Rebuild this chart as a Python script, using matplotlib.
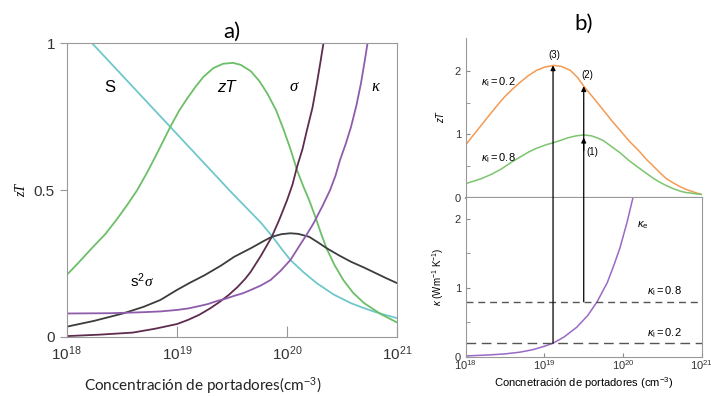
import matplotlib
matplotlib.use('Agg')
import matplotlib.pyplot as plt
import numpy as np
from matplotlib.patches import ConnectionPatch

plt.rcParams['mathtext.fontset'] = 'custom'
plt.rcParams['mathtext.rm'] = 'Liberation Sans'
plt.rcParams['mathtext.it'] = 'Liberation Sans:italic'
plt.rcParams['mathtext.sf'] = 'Liberation Sans'
plt.rcParams['font.family'] = ['Liberation Sans', 'DejaVu Sans']

# ---- panel a) : log10 of carrier concentration and curve values
s_x = [18.23, 18.94, 19.5, 19.76, 19.86, 19.95, 20.03, 20.15, 20.27, 20.42, 20.58,
       20.7, 20.8, 20.9, 21.0]
s_y = [1.0, 0.715, 0.49, 0.39, 0.345, 0.30, 0.262, 0.22, 0.183, 0.145, 0.115,
       0.098, 0.085, 0.074, 0.064]

zt_x = [18.0, 18.1, 18.24, 18.35, 18.45, 18.55, 18.64, 18.73, 18.82, 18.88, 18.94,
        19.02, 19.09, 19.17, 19.24, 19.33, 19.42, 19.51, 19.58, 19.67, 19.75, 19.82,
        19.9, 19.97, 20.03, 20.09, 20.15, 20.2, 20.26, 20.31, 20.36, 20.43, 20.51,
        20.6, 20.7, 20.85, 21.0]
zt_y = [0.211, 0.25, 0.307, 0.35, 0.398, 0.45, 0.50, 0.56, 0.625, 0.67, 0.715,
        0.77, 0.81, 0.852, 0.885, 0.915, 0.93, 0.933, 0.926, 0.905, 0.87, 0.829,
        0.772, 0.704, 0.64, 0.568, 0.51, 0.466, 0.405, 0.35, 0.30, 0.245, 0.194,
        0.15, 0.115, 0.078, 0.049]

pf_x = [18.0, 18.25, 18.51, 18.7, 18.85, 19.0, 19.12, 19.25, 19.4, 19.52, 19.67,
        19.78, 19.86, 19.95, 20.03, 20.1, 20.2, 20.28, 20.36, 20.47, 20.58, 20.7,
        20.8, 20.9, 21.0]
pf_y = [0.035, 0.055, 0.08, 0.103, 0.126, 0.16, 0.185, 0.21, 0.243, 0.273, 0.302,
        0.325, 0.341, 0.35, 0.353, 0.351, 0.341, 0.322, 0.302, 0.278, 0.256, 0.236,
        0.218, 0.2, 0.183]

sig_x = [18.0, 18.3, 18.6, 18.8, 19.0, 19.1, 19.2, 19.3, 19.39, 19.47, 19.55, 19.62,
         19.67, 19.76, 19.86, 19.93, 20.0, 20.05, 20.09, 20.14, 20.18, 20.23, 20.27,
         20.3, 20.33]
sig_y = [0.003, 0.008, 0.015, 0.028, 0.044, 0.058, 0.075, 0.097, 0.12, 0.143, 0.17,
         0.198, 0.222, 0.275, 0.34, 0.40, 0.466, 0.52, 0.579, 0.64, 0.704, 0.78,
         0.863, 0.93, 1.0]

kap_x = [18.0, 18.4, 18.67, 18.85, 19.0, 19.1, 19.2, 19.28, 19.36, 19.44, 19.52,
         19.6, 19.67, 19.76, 19.85, 19.94, 20.03, 20.12, 20.18, 20.24, 20.32, 20.39,
         20.44, 20.48, 20.53, 20.58, 20.63, 20.67, 20.7, 20.73]
kap_y = [0.08, 0.081, 0.084, 0.087, 0.092, 0.097, 0.105, 0.112, 0.122, 0.13, 0.14,
         0.149, 0.16, 0.175, 0.194, 0.225, 0.262, 0.315, 0.35, 0.387, 0.445, 0.5,
         0.55, 0.602, 0.655, 0.715, 0.79, 0.863, 0.93, 1.0]

# ---- panel b)
orange_x = [18.0, 18.08, 18.17, 18.26, 18.35, 18.43, 18.5, 18.6, 18.69, 18.8, 18.9,
            19.0, 19.12, 19.22, 19.33, 19.42, 19.5, 19.62, 19.75, 19.86, 19.97,
            20.08, 20.2, 20.3, 20.39, 20.47, 20.55, 20.64, 20.73, 20.8, 20.87,
            20.94, 21.0]
orange_y = [0.83, 0.96, 1.1, 1.24, 1.38, 1.5, 1.6, 1.72, 1.82, 1.93, 2.01,
            2.06, 2.09, 2.07, 2.01, 1.9, 1.76, 1.58, 1.38, 1.21, 1.05,
            0.89, 0.74, 0.6, 0.49, 0.39, 0.3, 0.23, 0.17, 0.13, 0.1,
            0.07, 0.05]

green_x = [18.0, 18.1, 18.2, 18.33, 18.45, 18.57, 18.69, 18.8, 18.9, 19.01, 19.12,
           19.22, 19.3, 19.4, 19.5, 19.6, 19.68, 19.75, 19.86, 19.97, 20.08, 20.2,
           20.3, 20.39, 20.47, 20.55, 20.64, 20.73, 20.8, 20.87, 20.94, 21.0]
green_y = [0.22, 0.26, 0.3, 0.37, 0.45, 0.55, 0.64, 0.72, 0.78, 0.83, 0.87,
           0.91, 0.945, 0.975, 0.99, 0.975, 0.94, 0.9, 0.8, 0.7, 0.58, 0.47,
           0.38, 0.3, 0.24, 0.19, 0.14, 0.1, 0.08, 0.07, 0.058, 0.05]

ke_x = [18.0, 18.3, 18.5, 18.69, 18.85, 19.0, 19.11, 19.25, 19.41, 19.55, 19.67,
        19.8, 19.88, 19.96, 20.05, 20.13]
ke_y = [0.015, 0.03, 0.045, 0.07, 0.105, 0.155, 0.2, 0.29, 0.43, 0.6, 0.8,
        1.08, 1.32, 1.58, 1.95, 2.33]

kl_values = [0.8, 0.2]
arrow_x = [19.11, 19.5]
arrow_base = [0.2, 0.8]
arrow_top = [2.09, 1.76]
arrow_low_head = 0.99

tick_exp = [18, 19, 20, 21]


def n(exps):
    return 10.0 ** np.array(exps)


fig = plt.figure(figsize=(7.11, 3.96), dpi=100)

# ================= a) =================
ax = fig.add_axes([0.0938, 0.149, 0.465, 0.742])
ax.set_xscale('log')
ax.plot(n(s_x), s_y, color='#6ec8cb', lw=1.3)
ax.plot(n(zt_x), zt_y, color='#6cbf68', lw=1.3)
ax.plot(n(pf_x), pf_y, color='#3c3c3c', lw=1.3)
ax.plot(n(sig_x), sig_y, color='#5e2c4e', lw=1.3)
ax.plot(n(kap_x), kap_y, color='#8f5cab', lw=1.3)
ax.set_xlim(1e18, 1e21)
ax.set_ylim(0, 1)
ax.set_xticks(n(tick_exp))
ax.set_xticklabels(['$10^{%d}$' % e for e in tick_exp], fontsize=11, color='#333333')
ax.xaxis.set_minor_locator(matplotlib.ticker.NullLocator())
ax.set_yticks([0, 0.5, 1])
ax.set_yticklabels(['0', '0.5', '1'], fontsize=11, color='#333333')
ax.tick_params(axis='x', direction='in', length=8, color='#999999', pad=5)
ax.tick_params(axis='y', direction='out', length=5, color='#999999')
for sp in ax.spines.values():
    sp.set_color('#999999')
ax.set_ylabel('zT', fontsize=10, fontstyle='italic', family='Liberation Serif', labelpad=4)
ax.text(0.412, -0.169, 'Concentración de portadores(cm$^{-3}$)', transform=ax.transAxes,
        fontsize=11, family='Lato', ha='center', va='center', color='#222222')
ax.set_title('a)', fontsize=16, family='Lato', pad=4)

ax.text(10 ** 18.39, 0.85, 'S', fontsize=12, ha='center', va='center')
ax.text(10 ** 19.45, 0.85, 'zT', fontsize=12, fontstyle='italic', ha='center', va='center')
ax.text(10 ** 20.06, 0.85, 'σ', fontsize=12, fontstyle='italic', family='Liberation Serif',
        ha='center', va='center')
ax.text(10 ** 20.8, 0.85, 'κ', fontsize=12, fontstyle='italic', family='Liberation Serif',
        ha='center', va='center')
ax.text(10 ** 18.64, 0.19, r's$^2$', fontsize=11, ha='center', va='center')
ax.text(10 ** 18.74, 0.185, 'σ', fontsize=11, fontstyle='italic', family='Liberation Serif',
        ha='center', va='center')

# ================= b) top =================
axt = fig.add_axes([0.655, 0.501, 0.332, 0.402])
axb = fig.add_axes([0.655, 0.0985, 0.332, 0.4025])
for a in (axt, axb):
    a.set_xscale('log')
    a.set_xlim(1e18, 1e21)
    a.xaxis.set_minor_locator(matplotlib.ticker.NullLocator())
    a.set_yticks([0.5, 1.5], minor=True)
    a.tick_params(which='both', direction='in', length=3, color='#888888',
                  labelsize=8, colors='#333333')
    for sp in a.spines.values():
        sp.set_color('#999999')

axt.plot(n(orange_x), orange_y, color='#f59a52', lw=1.1)
axt.plot(n(green_x), green_y, color='#7cc46e', lw=1.1)
axt.set_ylim(0, 2.515)
axt.set_yticks([0, 1, 2])
axt.set_xticks([])
axt.spines['top'].set_visible(False)
axt.spines['right'].set_visible(False)
axt.spines['bottom'].set_linewidth(1.6)
axt.set_ylabel('zT', fontsize=7, fontstyle='italic', labelpad=6)
axt.set_title('b)', fontsize=16, family='Lato', pad=4, y=1.02)
axt.text(10 ** 18.2, 1.83, r'$\kappa_{\rm l} = 0.2$', fontsize=8, va='center')
axt.text(10 ** 18.2, 0.62, r'$\kappa_{\rm l} = 0.8$', fontsize=8, va='center')
axt.text(10 ** 19.12, 2.25, '(3)', fontsize=7, ha='center', va='center')
axt.text(10 ** 19.55, 1.93, '(2)', fontsize=7, ha='center', va='center')
axt.text(10 ** 19.61, 0.72, '(1)', fontsize=7, ha='center', va='center')

# ================= b) bottom =================
axb.plot(n(ke_x), ke_y, color='#9a68c6', lw=1.1)
axb.axhline(kl_values[0], color='#555555', lw=1, dashes=(5, 3.5))
axb.axhline(kl_values[1], color='#555555', lw=1, dashes=(7, 4))
axb.set_ylim(0, 2.31)
axb.set_yticks([0, 1, 2])
axb.set_xticks(n(tick_exp))
axb.set_xticklabels(['$10^{%d}$' % e for e in tick_exp])
axb.tick_params(axis='x', pad=1)
axb.spines['top'].set_visible(False)
axb.set_ylabel(r'$\kappa$ (Wm$^{-1}$ K$^{-1}$)', fontsize=7, labelpad=6)
axb.set_xlabel('Concnetración de portadores (cm$^{-3}$)', fontsize=8, labelpad=2)
axb.text(10 ** 20.18, 1.91, r'$\kappa_{\rm e}$', fontsize=8, va='center')
axb.text(10 ** 20.3, 0.95, r'$\kappa_{\rm l} = 0.8$', fontsize=8, va='center')
axb.text(10 ** 20.3, 0.345, r'$\kappa_{\rm l} = 0.2$', fontsize=8, va='center')

# arrows spanning both panels
for xa, yb, yt in zip(arrow_x, arrow_base, arrow_top):
    con = ConnectionPatch(xyA=(10 ** xa, yb), coordsA=axb.transData,
                          xyB=(10 ** xa, yt), coordsB=axt.transData,
                          arrowstyle='-|>', mutation_scale=7, color='black', lw=0.9)
    fig.add_artist(con)
axt.annotate('', xy=(10 ** arrow_x[1], arrow_low_head), xytext=(10 ** arrow_x[1], 0.7),
             arrowprops=dict(arrowstyle='-|>', mutation_scale=7, color='black', lw=0.9))

fig.savefig('out.png', dpi=100)
